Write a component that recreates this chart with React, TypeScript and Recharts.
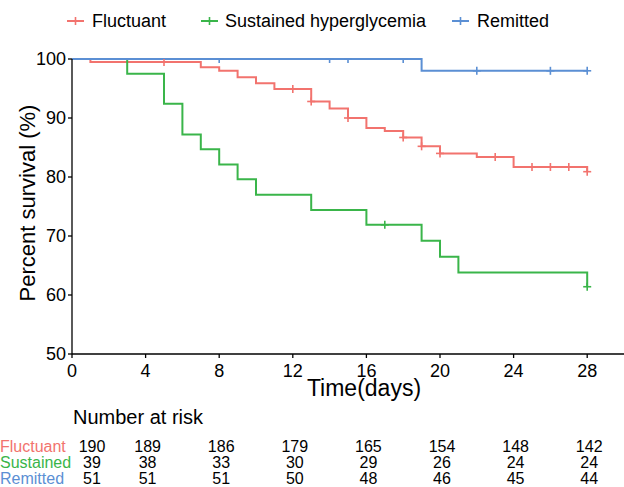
import React from 'react';
import { ComposedChart, Line, Scatter, XAxis, YAxis } from 'recharts';

// Kaplan-Meier steps
const fluctuantTimes = [0, 1, 7, 8, 9, 10, 11, 13, 14, 15, 16, 17, 18, 19, 20, 22, 24, 28];
const fluctuantSurv = [100, 99.5, 98.6, 98.0, 96.9, 95.9, 94.9, 92.8, 91.6, 90.0, 88.3, 87.8, 86.7, 85.2, 84.0, 83.4, 81.7, 80.9];
const fluctuantCensor = [5, 12, 13, 15, 18, 19, 20, 23, 25, 26, 27, 28];

const sustainedTimes = [0, 3, 5, 6, 7, 8, 9, 10, 13, 16, 19, 20, 21, 28];
const sustainedSurv = [100, 97.5, 92.4, 87.2, 84.7, 82.1, 79.6, 77.0, 74.4, 71.9, 69.2, 66.5, 63.8, 61.4];
const sustainedCensor = [17, 28];

const remittedTimes = [0, 19, 28];
const remittedSurv = [100, 98.0, 98.0];
const remittedCensor = [8, 14, 15, 18, 22, 26, 28];

const xTicks = [0, 4, 8, 12, 16, 20, 24, 28];
const yTicks = [50, 60, 70, 80, 90, 100];

const riskTimes = [0, 4, 8, 12, 16, 20, 24, 28];
const riskFluctuant = [190, 189, 186, 179, 165, 154, 148, 142];
const riskSustained = [39, 38, 33, 30, 29, 26, 24, 24];
const riskRemitted = [51, 51, 51, 50, 48, 46, 45, 44];

const RED = '#F2736E';
const GREEN = '#3AB54A';
const BLUE = '#5B8FD4';
const FONT = 'Arial, "Liberation Sans", sans-serif';

const toPoints = (times: number[], surv: number[]) => times.map((t, i) => ({ t, s: surv[i] }));

// survival value of the step curve at time t
const stepAt = (times: number[], surv: number[], t: number) => {
  let v = surv[0];
  times.forEach((tt, i) => {
    if (tt <= t) v = surv[i];
  });
  return v;
};

const censorPoints = (times: number[], surv: number[], cens: number[]) =>
  cens.map(t => ({ t, s: stepAt(times, surv, t) }));

const series = [
  { name: 'Fluctuant', short: 'Fluctuant', color: RED, times: fluctuantTimes, surv: fluctuantSurv, cens: fluctuantCensor, risk: riskFluctuant },
  { name: 'Sustained hyperglycemia', short: 'Sustained', color: GREEN, times: sustainedTimes, surv: sustainedSurv, cens: sustainedCensor, risk: riskSustained },
  { name: 'Remitted', short: 'Remitted', color: BLUE, times: remittedTimes, surv: remittedSurv, cens: remittedCensor, risk: riskRemitted },
];

const W = 624;
const PLOT_LEFT = 72;
const PLOT_TOP = 59;
const X_MAX = 30;
const xPix = (t: number) => PLOT_LEFT + (t * (W - PLOT_LEFT)) / X_MAX;

// censor "+" mark, clipped at the panel top like the original
const makePlus = (color: string) => (props: any) => {
  const { cx, cy } = props;
  return (
    <g stroke={color} strokeWidth={1.6}>
      <line x1={cx - 4} x2={cx + 4} y1={cy} y2={cy} />
      <line x1={cx} x2={cx} y1={Math.max(cy - 4, PLOT_TOP)} y2={cy + 4} />
    </g>
  );
};

const legendPos = [
  { lineX: 67, textX: 92 },
  { lineX: 201, textX: 225 },
  { lineX: 452, textX: 477 },
];

const App: React.FC = () => {
  const axisStyle = { stroke: '#000', strokeWidth: 1.3 };
  return (
    <div style={{ position: 'absolute', left: 0, top: 0, width: 624, height: 487, background: '#fff', fontFamily: FONT }}>
      <ComposedChart width={624} height={400} margin={{ top: PLOT_TOP, right: 0, left: 0, bottom: 0 }}>
        <XAxis
          dataKey="t"
          type="number"
          domain={[0, X_MAX]}
          ticks={xTicks}
          interval={0}
          height={46}
          tickSize={4}
          tickMargin={6}
          axisLine={axisStyle}
          tickLine={axisStyle}
          tick={{ fill: '#000', fontSize: 18, fontFamily: FONT }}
        />
        <YAxis
          dataKey="s"
          type="number"
          domain={[50, 100]}
          ticks={yTicks}
          interval={0}
          width={72}
          tickSize={4}
          tickMargin={2}
          axisLine={axisStyle}
          tickLine={axisStyle}
          tick={{ fill: '#000', fontSize: 18, fontFamily: FONT }}
        />
        {series.map(s => (
          <Line
            key={s.name}
            data={toPoints(s.times, s.surv)}
            dataKey="s"
            type="stepAfter"
            stroke={s.color}
            strokeWidth={2}
            dot={false}
            activeDot={false}
            isAnimationActive={false}
          />
        ))}
        {series.map(s => (
          <Scatter
            key={s.name + '-c'}
            data={censorPoints(s.times, s.surv, s.cens)}
            dataKey="s"
            shape={makePlus(s.color)}
            isAnimationActive={false}
          />
        ))}
      </ComposedChart>
      <svg width={624} height={487} style={{ position: 'absolute', left: 0, top: 0, pointerEvents: 'none' }} fontFamily={FONT}>
        {series.map((s, i) => (
          <g key={s.name}>
            <line x1={legendPos[i].lineX} x2={legendPos[i].lineX + 17} y1={21} y2={21} stroke={s.color} strokeWidth={2} />
            <line x1={legendPos[i].lineX + 8.5} x2={legendPos[i].lineX + 8.5} y1={17} y2={25} stroke={s.color} strokeWidth={1.6} />
            <text x={legendPos[i].textX} y={27} fontSize={18} fill="#000">{s.name}</text>
          </g>
        ))}
        <text x={35} y={203} fontSize={22} textAnchor="middle" transform="rotate(-90 35 203)" fill="#000">
          Percent survival (%)
        </text>
        <text x={364} y={396} fontSize={23} textAnchor="middle" fill="#000">Time(days)</text>
        <text x={73} y={424} fontSize={20} fill="#000">Number at risk</text>
        {series.map((s, r) => (
          <g key={s.name + '-risk'}>
            <text x={0} y={452 + r * 16} fontSize={16} fill={s.color}>{s.short}</text>
            {s.risk.map((n, i) => (
              <text key={i} x={i === 0 ? 92 : xPix(riskTimes[i]) + 2} y={452 + r * 16} fontSize={16} textAnchor="middle" fill="#000">
                {n}
              </text>
            ))}
          </g>
        ))}
      </svg>
    </div>
  );
};

export default App;
